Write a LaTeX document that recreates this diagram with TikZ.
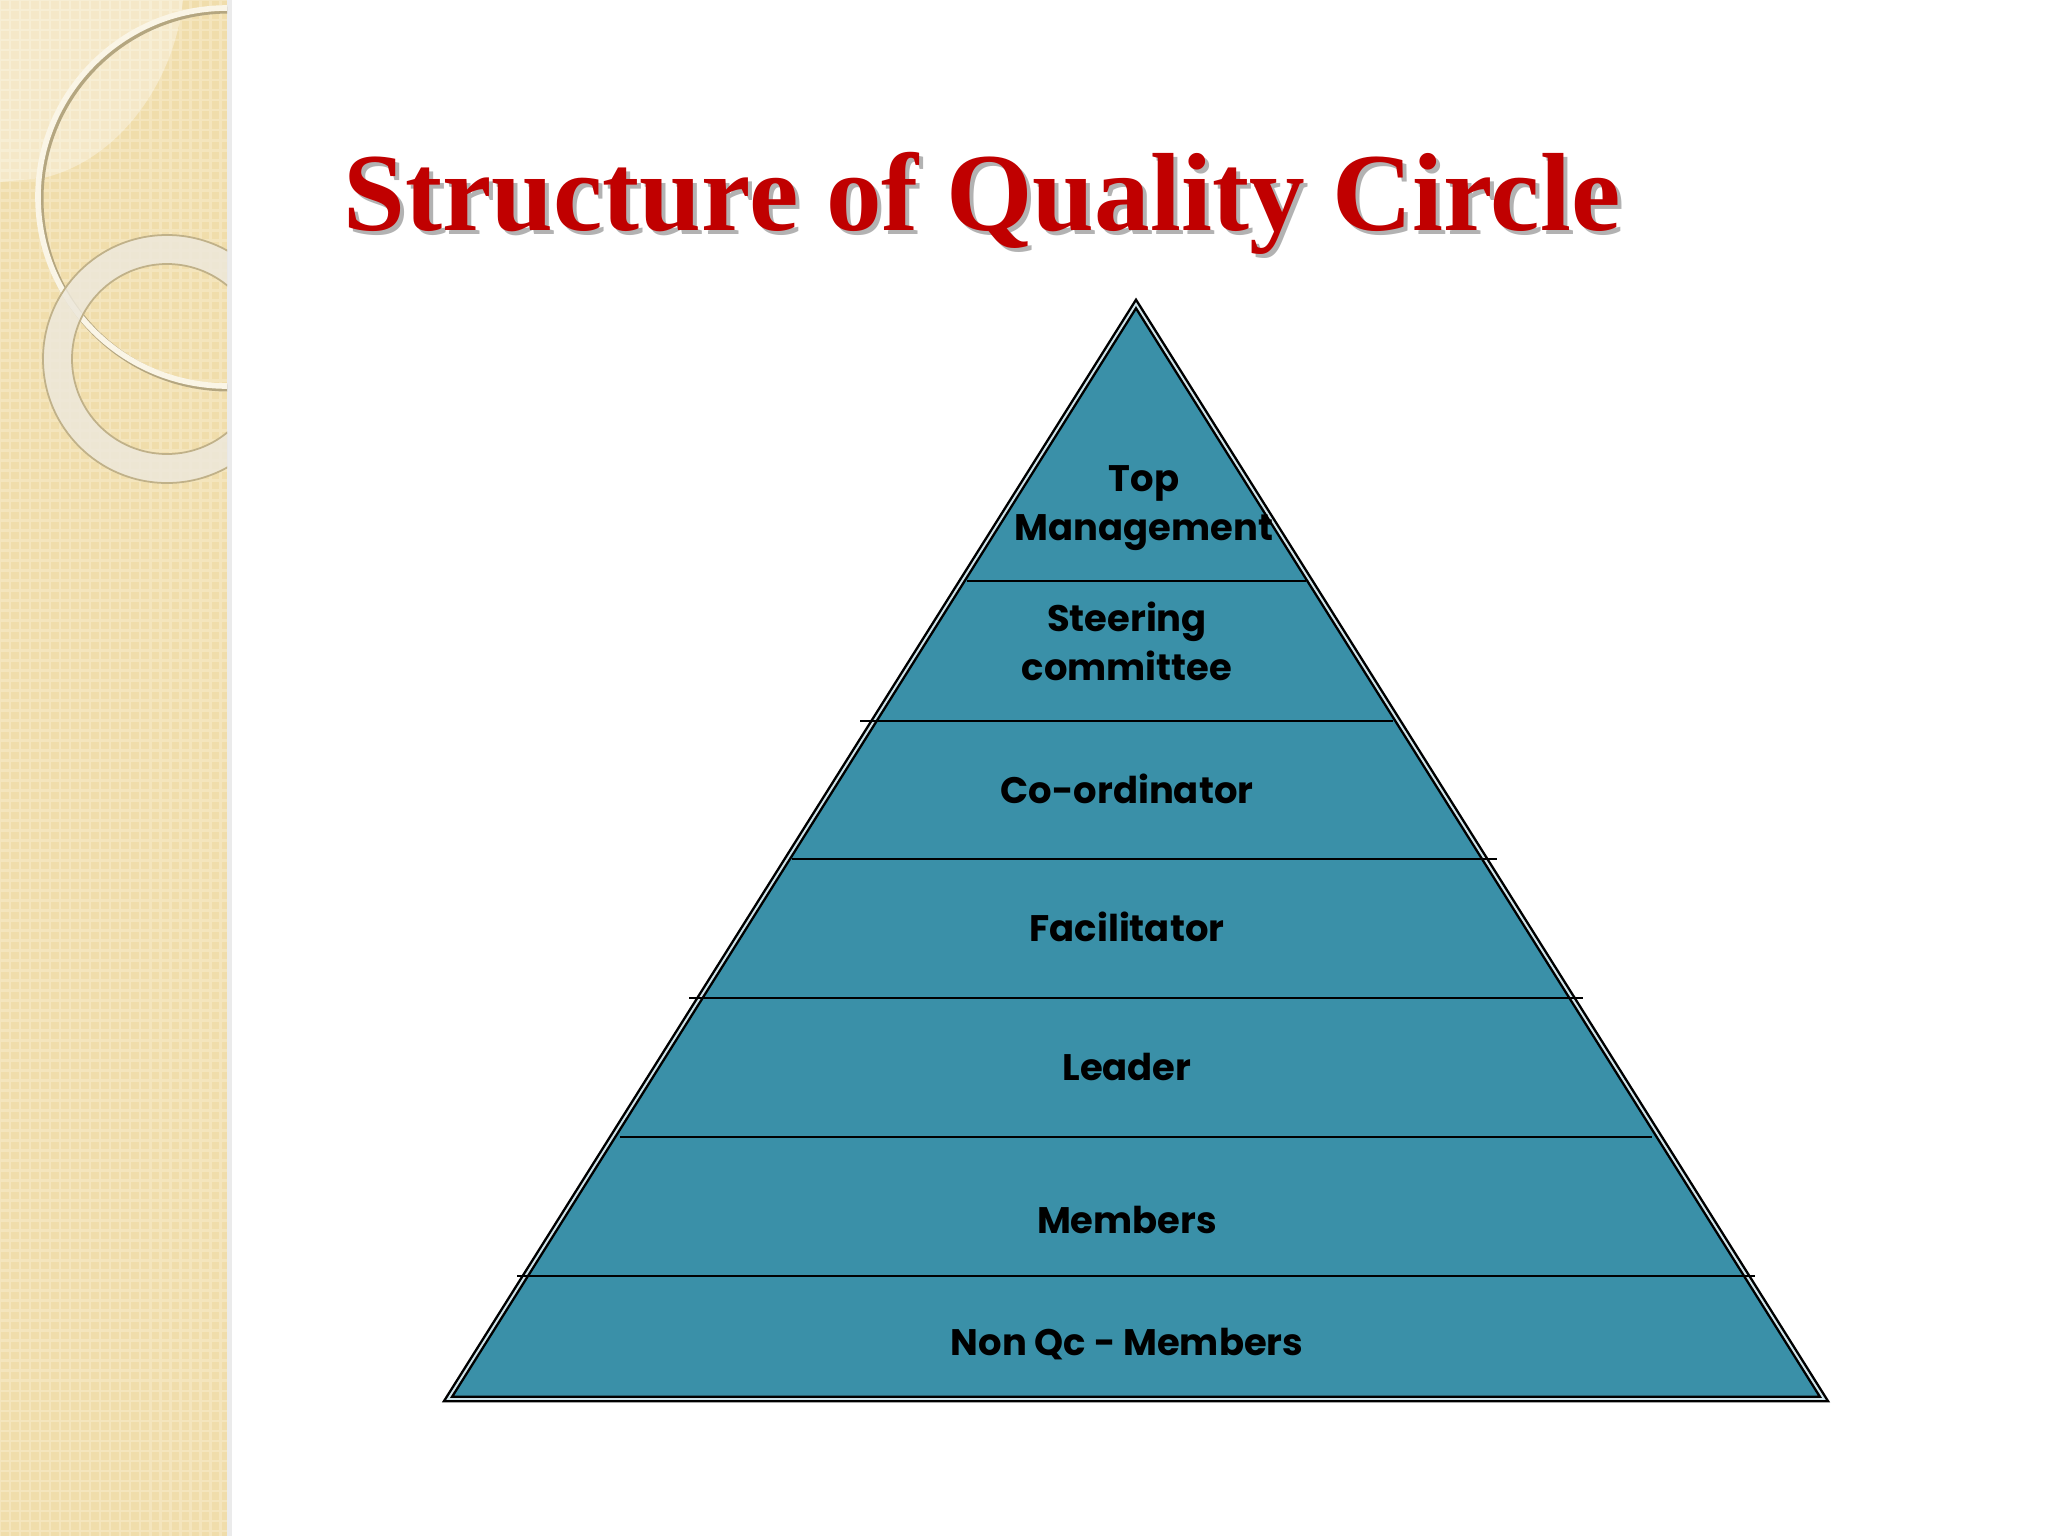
\documentclass[tikz,border=0pt]{standalone}
\usepackage{fontspec}
\setmainfont{Liberation Serif}
\newfontfamily\labelfont{Poppins}
\usetikzlibrary{positioning}

\definecolor{pyrteal}{HTML}{3A90A8}
\definecolor{titlered}{HTML}{C00000}
\definecolor{bandbeige}{HTML}{F0DDAB}
\definecolor{bandgrid}{HTML}{F4E5BD}
\definecolor{ringgrey}{HTML}{EDE8DB}

\begin{document}
\begin{tikzpicture}[x=0.01cm, y=-0.01cm]
    \tikzstyle{level}=[font=\labelfont\bfseries\fontsize{10.5}{13.9}\selectfont, anchor=base, inner sep=0pt];
    \tikzstyle{twolevel}=[level, anchor=center, align=center];
    \tikzstyle{divider}=[line width=0.6pt];
    \tikzstyle{outline}=[draw=black, line width=0.7pt, double=white!75!pyrteal, double distance=0.55pt, line join=miter];
    \tikzstyle{heading}=[anchor=base west, inner sep=0pt, font=\bfseries\fontsize{31.6}{38}\selectfont];
    \useasboundingbox[fill=white] (0,0) rectangle (2048,1536);
    % left band
    \begin{scope}
        \clip (0,0) rectangle (227,1536);
        \fill[bandbeige] (0,0) rectangle (227,1536);
        \draw[bandgrid, line width=0.8pt, step=0.1cm] (0,0) grid (227,1536);
        \fill[white, opacity=0.35] (0,0) -- (183,0) .. controls (175,80) and (120,160) .. (43,178) -- (0,182) -- cycle;
        \draw[black!25!bandbeige, line width=2pt] (229,199) circle (189);
        \draw[white!70!bandbeige, line width=1.6pt] (227,197) circle (189);
        \fill[ringgrey, opacity=0.85, even odd rule] (167,359) circle (124) (167,359) circle (95);
        \draw[black!20!bandbeige, line width=0.5pt] (167,359) circle (124) (167,359) circle (95);
    \end{scope}
    \fill[black, opacity=0.08] (227,0) rectangle (232,1536);
    % title
    \node[heading, text=black!30] (shadow) at (347,234) {Structure of Quality Circle};
    \node[heading, text=titlered] (title) at (343,230) {Structure of Quality Circle};
    % pyramid
    \fill[pyrteal] (1136,304) -- (1824,1399) -- (448,1399) -- cycle;
    \draw[outline] (1136,304) -- (1824,1399) -- (448,1399) -- cycle;
    \draw[divider] (967,581) -- (1306,581);
    \draw[divider] (860,721) -- (1393,721);
    \draw[divider] (792,859) -- (1497,859);
    \draw[divider] (689,998) -- (1583,998);
    \draw[divider] (620,1137) -- (1652,1137);
    \draw[divider] (517,1276) -- (1755,1276);
    % levels
    \node[twolevel] (top) at (1144,508) {Top\\Management};
    \node[twolevel] (steer) at (1127,641) {Steering\\committee};
    \node[level] (coord) at (1127,803) {Co-ordinator};
    \node[level] (facil) at (1127,941) {Facilitator};
    \node[level] (lead) at (1127,1080) {Leader};
    \node[level] (memb) at (1127,1233) {Members};
    \node[level] (nonqc) at (1127,1355) {Non Qc - Members};
\end{tikzpicture}
\end{document}
